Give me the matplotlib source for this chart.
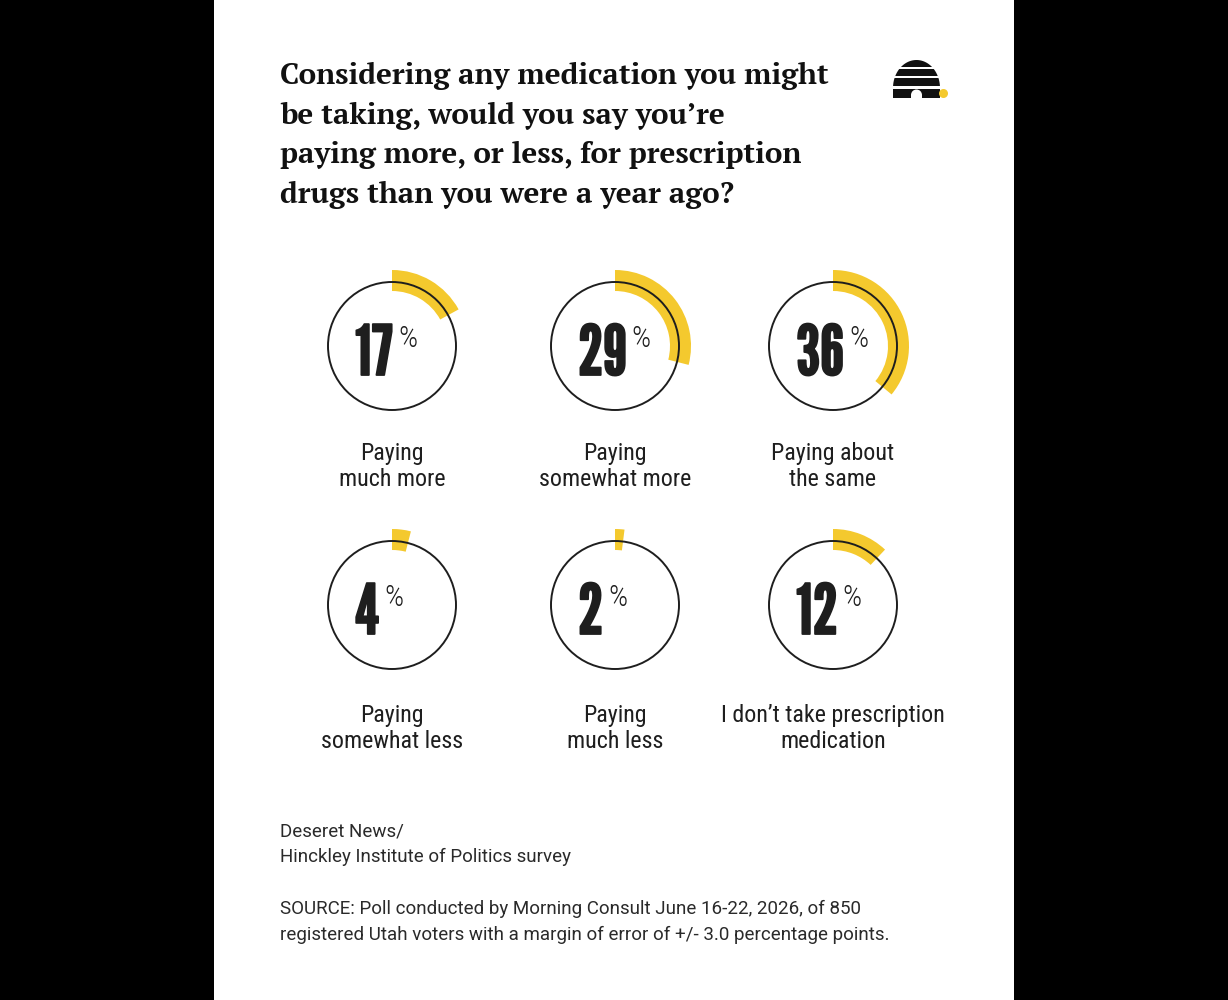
import numpy as np
import matplotlib
matplotlib.use("Agg")
import matplotlib.pyplot as plt
import matplotlib.patheffects as pe
from matplotlib.patches import Wedge, Circle, Rectangle, Polygon
from matplotlib.font_manager import FontProperties, fontManager
from matplotlib.textpath import TextPath

# --- data ---
title_lines = ["Considering any medication you might",
               "be taking, would you say you’re",
               "paying more, or less, for prescription",
               "drugs than you were a year ago?"]
labels = ["Paying\nmuch more", "Paying\nsomewhat more", "Paying about\nthe same",
          "Paying\nsomewhat less", "Paying\nmuch less", "I don’t take prescription\nmedication"]
values = [17, 29, 36, 4, 2, 12]
credit_lines = ["Deseret News/", "Hinckley Institute of Politics survey"]
source_lines = ["SOURCE: Poll conducted by Morning Consult June 16-22, 2026, of 850",
                "registered Utah voters with a margin of error of +/- 3.0 percentage points."]

YELLOW = "#F4C92E"
INK = "#1e1e1e"
W, H = 1228, 1000


def pick(cands, min_weight=0):
    for name in cands:
        if any(f.name == name and f.weight >= min_weight for f in fontManager.ttflist):
            return name
    return "DejaVu Serif"


TITLE_FONT = pick(["PT Serif", "Newsreader", "Lora", "Merriweather", "Liberation Serif"], 700)
NUM_FONT = "League Gothic"
LABEL_FONT = "Roboto Condensed"
FOOT_FONT = "Roboto"


def width_size(text, family, target_px, weight="normal"):
    # font size (pt) that makes `text` about target_px wide
    fp = FontProperties(family=family, weight=weight)
    w = TextPath((0, 0), text, size=100, prop=fp).get_extents().width
    return target_px * 100 / w * 0.72


def cap_size(text, family, target_px, weight="normal"):
    fp = FontProperties(family=family, weight=weight)
    h = TextPath((0, 0), text, size=100, prop=fp).get_extents().height
    return target_px * 100 / h * 0.72


fig = plt.figure(figsize=(W / 100, H / 100), dpi=100, facecolor="black")
ax = fig.add_axes([0, 0, 1, 1])
ax.set_xlim(0, W)
ax.set_ylim(H, 0)
ax.axis("off")
ax.add_patch(Rectangle((214, 0), 800, H, facecolor="white", edgecolor="none", zorder=0))

# title
ts = width_size(title_lines[0], TITLE_FONT, 548, "bold")
for k, line in enumerate(title_lines):
    ax.text(280, 84 + 39.7 * k, line, family=TITLE_FONT, weight="bold", fontsize=ts,
            color="#111111", ha="left", va="baseline")

# logo (beehive + dot)
t = np.linspace(np.pi, 0, 50)
hive = [(893, 98)] + [(916.5 + 23.5 * np.cos(a), 88 - 28 * np.sin(a)) for a in t] + [(940, 98)]
ax.add_patch(Polygon(hive, closed=True, facecolor="#111111", edgecolor="none", zorder=2))
for yy in (68, 77, 87.5):
    ax.add_patch(Rectangle((888, yy - 1.1), 58, 2.2, facecolor="white", edgecolor="none", zorder=3))
ax.add_patch(Rectangle((911, 95), 11, 4, facecolor="white", edgecolor="none", zorder=3))
ax.add_patch(Circle((916.5, 95), 5.5, facecolor="white", edgecolor="none", zorder=3))
ax.add_patch(Circle((943.5, 93.5), 4.5, facecolor=YELLOW, edgecolor="none", zorder=3))

# gauges
col_x = [392, 615, 833]
row_y = [346, 605]
label_base = [460, 722]
ns = cap_size("0", NUM_FONT, 52)
ps = cap_size("%", LABEL_FONT, 22, "light")
ls = width_size("I don’t take prescription", LABEL_FONT, 221)
bold = [pe.withStroke(linewidth=1.3, foreground=INK)]

renderer = fig.canvas.get_renderer()
for i, (v, lab) in enumerate(zip(values, labels)):
    cx, cy = col_x[i % 3], row_y[i // 3]
    ax.add_patch(Wedge((cx, cy), 76, 270, 270 + v * 3.6, width=21,
                       facecolor=YELLOW, edgecolor="none", zorder=2))
    ax.add_patch(Circle((cx, cy), 64, fill=False, edgecolor=INK, lw=1.4, zorder=3))
    num = ax.text(cx - 37, cy + 29, str(v), family=NUM_FONT, fontsize=ns, color=INK,
                  ha="left", va="baseline", zorder=4, path_effects=bold)
    bb = num.get_window_extent(renderer)
    x1 = ax.transData.inverted().transform((bb.x1, bb.y1))[0]
    ax.text(x1 + 5, cy + 1, "%", family=LABEL_FONT, weight="light", fontsize=ps, color=INK,
            ha="left", va="baseline", zorder=4)
    for k, line in enumerate(lab.split("\n")):
        ax.text(cx, label_base[i // 3] + 25.5 * k, line, family=LABEL_FONT, fontsize=ls,
                color=INK, ha="center", va="baseline")

# footer
fs = width_size(source_lines[0], FOOT_FONT, 578)
for k, line in enumerate(credit_lines):
    ax.text(280, 836 + 26 * k, line, family=FOOT_FONT, fontsize=fs, color="#2a2a2a",
            ha="left", va="baseline")
for k, line in enumerate(source_lines):
    ax.text(280, 914 + 26 * k, line, family=FOOT_FONT, fontsize=fs, color="#2a2a2a",
            ha="left", va="baseline")

fig.savefig("out.png", dpi=100, facecolor="black")
